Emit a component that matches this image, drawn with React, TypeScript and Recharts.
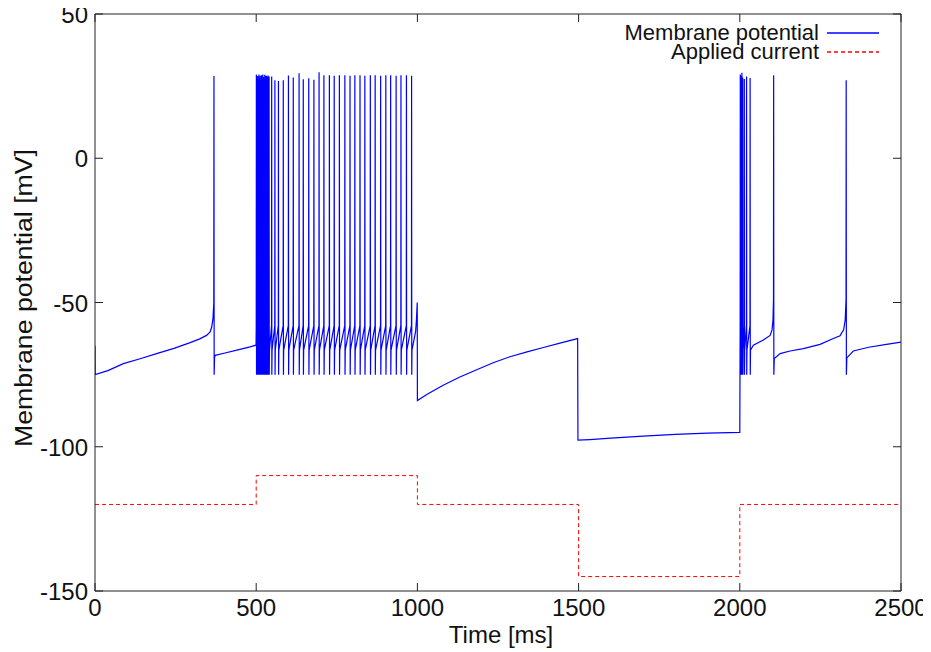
import { LineChart, Line, XAxis, YAxis } from "recharts";

const timeTicks = [0, 500, 1000, 1500, 2000, 2500];
const voltTicks = [-150, -100, -50, 0, 50];

// applied current: levels between switch times
const stepTimes = [0, 500, 1000, 1500, 2000, 2500];
const currentLevels = [-120, -110, -120, -145, -120];

// membrane potential, slow parts [t ms, mV]
const ramp0 = [
  [0, -65], [0.5, -75], [40, -73.6], [88, -71.2], [140, -69.5], [191, -67.7],
  [245, -65.9], [295, -63.9], [325, -62.6], [346, -61.4], [357, -60.2],
  [362, -58.5], [366, -55.5], [368.5, -50],
];
const ramp1 = [
  [370.8, -69.1], [373, -68.3], [400, -67.6], [440, -66.5], [481, -65.4], [499.5, -64.8],
];
const ramp2 = [
  [994.5, -60], [997, -56], [999.5, -50], [1000, -84], [1029, -81.9], [1080, -78.7],
  [1130, -75.9], [1184, -73.3], [1235, -70.9], [1287, -68.8], [1340, -67.1],
  [1391, -65.6], [1445, -64], [1497, -62.5], [1498, -97.7], [1535, -97.5],
  [1600, -97], [1700, -96.3], [1800, -95.7], [1900, -95.3], [2000, -95],
];
const ramp3 = [
  [2042, -64.8], [2073, -63], [2094, -61.4], [2100, -59.5], [2103, -56], [2104.5, -49],
];
const ramp4 = [
  [2107, -69.4], [2125, -67.7], [2156, -66.8], [2197, -66], [2249, -64.5],
  [2290, -62.5], [2311, -61.5], [2322, -59.5], [2327, -56], [2329.5, -49],
];
const ramp5 = [
  [2332, -69.2], [2352, -66.8], [2400, -65.5], [2450, -64.6], [2500, -63.7],
];

// spikes: times and peak values
const burst1Times = [
  500.5, 502.5, 504.5, 506.5, 508.5, 510.5, 512.5, 514.5, 516.5, 518.5, 520.5,
  522.5, 524.5, 526.5, 529, 531.5, 534, 537, 540,
  548, 558, 569, 584, 600, 615, 633, 646, 663, 679, 695, 710, 727, 742, 758, 775,
  791, 806, 822, 837, 854, 869, 886, 902, 917, 934, 949, 966, 982,
];
const burst1Peaks = [
  29, 28, 28.5, 27.5, 29, 27.8, 28.6, 27.2, 28.8, 27.5, 29,
  28.2, 27.4, 28.9, 28.5, 28.6, 28.3, 28.7, 28.3,
  28.3, 27, 26.8, 27, 28.7, 28, 29.5, 27.4, 27.7, 27.2, 29.8, 28.8, 28.8, 28.6,
  28.8, 28.8, 28.6, 28.8, 28.8, 28.6, 28.8, 28.8, 28.6, 28.8, 28.8, 28.6, 28.8,
  28.8, 28.6,
];
const burst2Times = [2001.5, 2004, 2006.5, 2009, 2014, 2021, 2032];
const burst2Peaks = [29, 28.5, 29.6, 28, 27.5, 28.3, 27.8];
const singleSpikes = [
  { t: 369, peak: 28.5 },
  { t: 2105, peak: 28.8 },
  { t: 2330, peak: 27 },
];
const spikeTrough = -75;
const spikeThreshold = -58;
const spikeRebound = -66.5;

type Pt = { t: number; v: number };

const fromPairs = (arr: number[][]): Pt[] => arr.map(([t, v]) => ({ t, v }));
const burst = (times: number[], peaks: number[]): Pt[] =>
  times.flatMap((ts, i) => [
    { t: ts - 0.4, v: spikeThreshold },
    { t: ts, v: peaks[i] },
    { t: ts + 0.5, v: spikeTrough },
    { t: ts + 1.2, v: spikeRebound },
  ]);
const single = (s: { t: number; peak: number }): Pt[] => [
  { t: s.t, v: s.peak },
  { t: s.t + 0.6, v: spikeTrough },
];

const membraneData: Pt[] = [
  ...fromPairs(ramp0),
  ...single(singleSpikes[0]),
  ...fromPairs(ramp1),
  ...burst(burst1Times, burst1Peaks),
  ...fromPairs(ramp2),
  ...burst(burst2Times, burst2Peaks),
  ...fromPairs(ramp3),
  ...single(singleSpikes[1]),
  ...fromPairs(ramp4),
  ...single(singleSpikes[2]),
  ...fromPairs(ramp5),
];

const currentData: Pt[] = currentLevels.flatMap((v, i) => [
  { t: stepTimes[i], v },
  { t: stepTimes[i + 1], v },
]);

const frame = "#222";
const font = "'Liberation Sans', Arial, Helvetica, sans-serif";

const BottomTick = ({ x, y, payload }: any) => (
  <g>
    <line x1={x} y1={y} x2={x} y2={y - 8} stroke={frame} />
    <text x={x} y={y + 25} textAnchor="middle" fontSize={24} fontFamily={font} fill="#111">
      {payload.value}
    </text>
  </g>
);
const TopTick = ({ x, y }: any) => (
  <line x1={x} y1={y} x2={x} y2={y + 8} stroke={frame} />
);
const LeftTick = ({ x, y, payload }: any) => (
  <g>
    <line x1={x} y1={y} x2={x + 8} y2={y} stroke={frame} />
    <text x={x - 7} y={y + 9} textAnchor="end" fontSize={24} fontFamily={font} fill="#111">
      {payload.value}
    </text>
  </g>
);
const RightTick = ({ x, y }: any) => (
  <line x1={x} y1={y} x2={x - 8} y2={y} stroke={frame} />
);

const XTitle = () => (
  <text x={501} y={643} textAnchor="middle" fontSize={24} fontFamily={font} fill="#111">
    Time [ms]
  </text>
);
const YTitle = () => (
  <text
    x={32}
    y={298}
    transform="rotate(-90 32 298)"
    textAnchor="middle"
    fontSize={23}
    fontFamily={font}
    fill="#111"
    textLength={298}
    lengthAdjust="spacingAndGlyphs"
  >
    Membrane potential [mV]
  </text>
);

const legendRows = [
  { name: "Membrane potential", color: "#0000ff", dash: undefined },
  { name: "Applied current", color: "#ff0000", dash: "4 3" },
];

export default function App() {
  return (
    <div style={{ position: "relative", width: 931, height: 652, margin: "-8px 0 0 -8px" }}>
      <LineChart width={931} height={652} margin={{ top: 13, right: 29, bottom: 0, left: 0 }}>
        <XAxis
          dataKey="t"
          type="number"
          domain={[0, 2500]}
          ticks={timeTicks}
          height={61}
          tickSize={0}
          tickMargin={0}
          tickLine={false}
          tick={BottomTick}
          axisLine={{ stroke: frame }}
          allowDataOverflow
          label={XTitle}
        />
        <XAxis
          xAxisId="top"
          orientation="top"
          dataKey="t"
          type="number"
          domain={[0, 2500]}
          ticks={timeTicks}
          height={1}
          tickSize={0}
          tickMargin={0}
          tickLine={false}
          tick={TopTick}
          axisLine={{ stroke: frame }}
          allowDataOverflow
        />
        <YAxis
          type="number"
          domain={[-150, 50]}
          ticks={voltTicks}
          width={95}
          tickSize={0}
          tickMargin={0}
          tickLine={false}
          tick={LeftTick}
          axisLine={{ stroke: frame }}
          allowDataOverflow
          label={YTitle}
        />
        <YAxis
          yAxisId="right"
          orientation="right"
          type="number"
          domain={[-150, 50]}
          ticks={voltTicks}
          width={1}
          tickSize={0}
          tickMargin={0}
          tickLine={false}
          tick={RightTick}
          axisLine={{ stroke: frame }}
          allowDataOverflow
        />
        {/* invisible copy bound to the mirrored axes so the frame gets drawn */}
        <Line
          data={currentData}
          dataKey="v"
          xAxisId="top"
          yAxisId="right"
          stroke="none"
          dot={false}
          activeDot={false}
          isAnimationActive={false}
        />
        <Line
          data={currentData}
          dataKey="v"
          type="linear"
          stroke="#ff0000"
          strokeWidth={1}
          strokeDasharray="4 3"
          dot={false}
          isAnimationActive={false}
        />
        <Line
          data={membraneData}
          dataKey="v"
          type="linear"
          stroke="#0000ff"
          strokeWidth={1.2}
          dot={false}
          isAnimationActive={false}
        />
      </LineChart>
      <div
        style={{
          position: "absolute",
          top: 23,
          right: 52,
          fontFamily: font,
          fontSize: 22,
          color: "#111",
        }}
      >
        {legendRows.map((r) => (
          <div key={r.name} style={{ display: "flex", alignItems: "center", justifyContent: "flex-end", height: 19 }}>
            <span style={{ lineHeight: "19px", marginRight: 8 }}>{r.name}</span>
            <svg width={52} height={19} style={{ display: "block" }}>
              <line x1={0} y1={10} x2={52} y2={10} stroke={r.color} strokeWidth={1.4} strokeDasharray={r.dash} />
            </svg>
          </div>
        ))}
      </div>
    </div>
  );
}
